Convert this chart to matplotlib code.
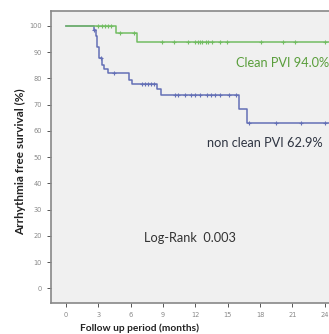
import matplotlib.pyplot as plt

# Kaplan-Meier steps (months, survival %)
green_t = [0, 4.6, 6.55, 25.4]
green_s = [100, 97.2, 94.0, 94.0]
blue_t = [0, 2.6, 2.75, 2.9, 3.05, 3.3, 3.55, 3.85, 5.8, 6.15, 8.4, 8.85, 16.0, 16.75, 25.4]
blue_s = [100, 98.5, 96.0, 92.0, 87.7, 85.2, 83.5, 82.0, 79.5, 78.0, 76.0, 73.6, 68.2, 62.9, 62.9]

# censored cases
green_cens_t = [3.0, 3.3, 3.6, 3.9, 4.2, 5.0, 6.3, 8.9, 10.0, 11.35, 12.0, 12.2, 12.4, 12.6,
                13.0, 13.2, 13.5, 14.3, 14.9, 18.1, 20.1, 21.2, 24.0]
green_cens_s = [100, 100, 100, 100, 100, 97.2, 97.2] + [94.0] * 16
blue_cens_t = [2.6, 3.2, 4.4, 7.0, 7.3, 7.6, 7.9, 8.2, 10.1, 10.4, 11.0, 11.6, 12.0, 12.4,
               13.05, 13.4, 13.8, 14.3, 15.1, 15.8, 17.0, 19.5, 21.8, 24.0]
blue_cens_s = [98.5, 87.7, 82.0, 78, 78, 78, 78, 78] + [73.6] * 12 + [62.9] * 4

xticks = list(range(0, 25, 3))
yticks = list(range(0, 101, 10))

green = "#72bd62"
blue = "#6470b6"

fig = plt.figure(figsize=(3.29, 3.34), dpi=100)
ax = fig.add_axes([0.155, 0.094, 0.878, 0.873])
ax.set_facecolor("#f0f0f0")

ax.step(blue_t, blue_s, where="post", color=blue, lw=1.1)
ax.plot(blue_cens_t, blue_cens_s, "+", color=blue, ms=3.5, mew=0.8)
ax.step(green_t, green_s, where="post", color=green, lw=1.1)
ax.plot(green_cens_t, green_cens_s, "+", color=green, ms=3.5, mew=0.8)

ax.set_xlim(-1.4, 25.4)
ax.set_ylim(-5.4, 105.7)
ax.set_xticks(xticks)
ax.set_yticks(yticks)
ax.tick_params(labelsize=4.8, labelcolor="#888888", color="#555555", length=3, width=0.7)

for s in ["left", "bottom", "top"]:
    ax.spines[s].set_color("#888888")
    ax.spines[s].set_linewidth(1.2)
ax.spines["right"].set_visible(False)

ax.text(15.8, 86.0, "Clean PVI 94.0%", color="#5a9e3c", fontsize=9.2,
        family="Lato", va="center")
ax.text(13.1, 55.4, "non clean PVI 62.9%", color="#2f3542", fontsize=9.2,
        family="Lato", va="center")
ax.text(7.2, 19.4, "Log-Rank  0.003", color="#333333", fontsize=9.2,
        family="Lato", va="center")

fig.text(0.425, 0.018, "Follow up period (months)", fontsize=7.3, fontweight="bold",
         family="Lato", ha="center", va="center", color="#222222")
fig.text(0.062, 0.515, "Arrhythmia free survival (%)", fontsize=8.5, fontweight="bold",
         family="Lato", ha="center", va="center", rotation=90, color="#222222")

fig.savefig("out.png", dpi=100)
